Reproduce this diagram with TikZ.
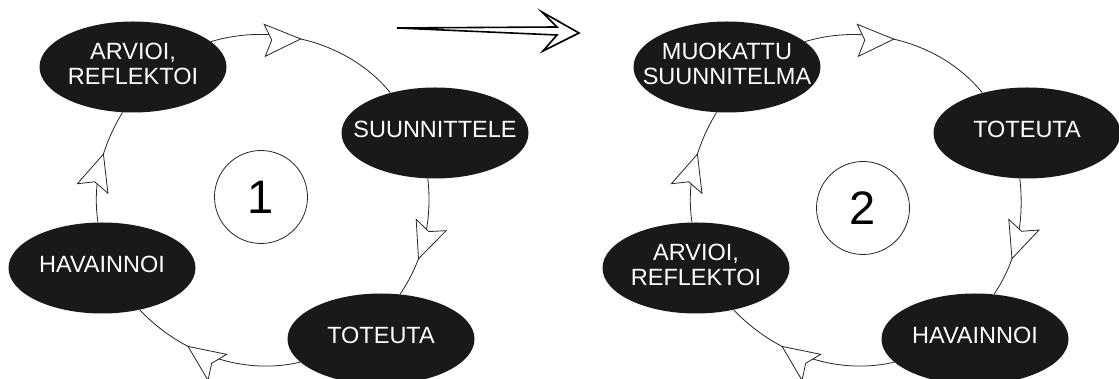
\documentclass[tikz,border=0pt]{standalone}
\usepackage{fontspec}
\setmainfont{Liberation Sans}
\usetikzlibrary{shapes.geometric,decorations.markings}
\newcommand{\stagetext}[1]{\makebox[0pt]{\begin{tabular}{@{}c@{}}#1\end{tabular}}}
\tikzset{
  stage/.style={ellipse, fill=black!90, text=white, minimum width=187pt, minimum height=91pt, inner sep=0pt, font=\fontsize{23.5}{25}\selectfont},
  numcirc/.style={circle, draw=black!85, line width=0.8pt, minimum size=93pt, inner sep=0pt, font=\fontsize{47}{47}\selectfont},
  flow/.style={draw=black!85, line width=0.8pt, looseness=0.9},
  headshape/.style={draw=black!85, fill=white, line width=0.8pt, line join=miter},
  head/.style 2 args={postaction={decorate}, decoration={markings, mark=at position #1 with {\draw[headshape, rotate=#2] (0pt,0pt) -- (-36pt,16pt) -- (-29pt,0pt) -- (-36pt,-16pt) -- cycle;}}},
  bigarrow/.style={draw=black, line width=1.6pt, fill=white, line join=miter}
}
\begin{document}
\begin{tikzpicture}[x=1pt,y=1pt]
\path[use as bounding box, fill=white] (0,0) rectangle (1119,379);
% ---- left cycle ----
\node[stage] (l1) at (133,312) {\stagetext{ARVIOI,\\REFLEKTOI}};
\node[stage] (l2) at (435,246) {\stagetext{SUUNNITTELE}};
\node[stage] (l3) at (381,40) {\stagetext{TOTEUTA}};
\node[stage] (l4) at (102,111) {\stagetext{HAVAINNOI}};
\node[numcirc] (c1) at (261,182) {1};
\draw[flow, head={0.46}{15}] (l1.18) to[out=17, in=129] (l2.138);
\draw[flow, head={0.67}{0}] (l2.261) to[out=-83.5, in=55.8] (l3.67);
\draw[flow, head={0.655}{-8}] (l3.196) to[out=-166.7, in=-46.7] (l4.-48);
\draw[flow, head={0.6}{0}] (l4.95) to[out=98.7, in=-121.1] (l1.-103.5);
% ---- transition arrow ----
\coordinate (bs) at (397,351);
\coordinate (bt) at (579,346);
\draw[bigarrow] (bs) -- (557,352) -- (542,367) -- (bt) -- (543,328) -- (557,344) -- cycle;
% ---- right cycle ----
\node[stage] (r1) at (727,312) {\stagetext{MUOKATTU\\SUUNNITELMA}};
\node[stage] (r2) at (1027,246) {\stagetext{TOTEUTA}};
\node[stage] (r3) at (975,40) {\stagetext{HAVAINNOI}};
\node[stage] (r4) at (696,111) {\stagetext{ARVIOI,\\REFLEKTOI}};
\node[numcirc] (c2) at (863,171) {2};
\draw[flow, head={0.46}{15}] (r1.18) to[out=17, in=129] (r2.138);
\draw[flow, head={0.67}{0}] (r2.261) to[out=-83.5, in=55.8] (r3.67);
\draw[flow, head={0.655}{-8}] (r3.196) to[out=-166.7, in=-46.7] (r4.-48);
\draw[flow, head={0.6}{0}] (r4.95) to[out=98.7, in=-121.1] (r1.-103.5);
\end{tikzpicture}
\end{document}
